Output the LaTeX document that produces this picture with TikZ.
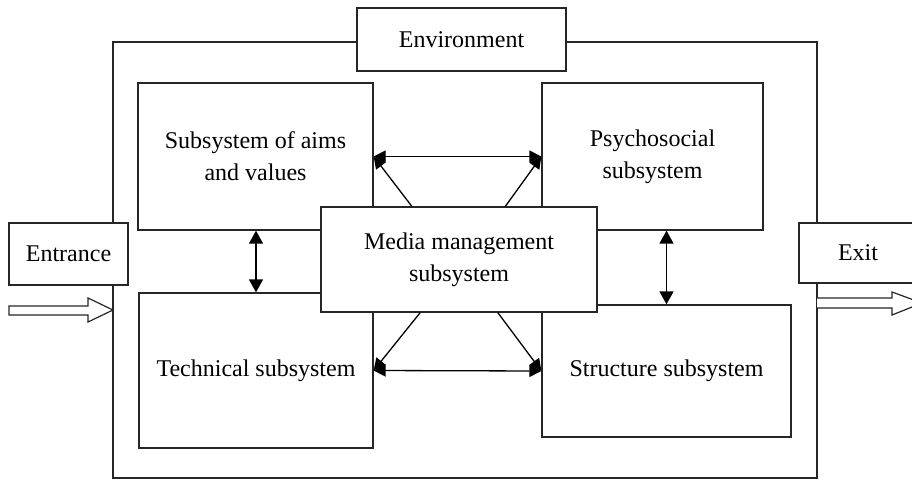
\documentclass[tikz,border=0pt]{standalone}
\usepackage{fontspec}
\setmainfont{Liberation Serif}
\usetikzlibrary{arrows.meta,calc}
\begin{document}
\begin{tikzpicture}[x=1pt,y=-1pt,
  box/.style={draw=black!85,line width=1.3pt,fill=white,inner sep=0pt,align=center,
    font=\fontsize{24}{32}\selectfont},
  link/.style={line width=1.3pt,{Triangle[length=12pt,width=12pt]}-{Triangle[length=12pt,width=12pt]}},
  vlink/.style={line width=1.5pt,{Triangle[length=13pt,width=14pt]}-{Triangle[length=13pt,width=14pt]}},
  spoke/.style={line width=1.3pt,-{Triangle[length=12pt,width=12pt]}},
  flow/.style={draw=black!85,line width=1.2pt,fill=white,line join=miter}]
\useasboundingbox (0,0) rectangle (912,479);
\clip (0,0) rectangle (912,479);

% outer system boundary
\node[box,minimum width=704,minimum height=436] (frame) at (465,260) {};

% environment label on the top edge
\node[box,minimum width=209,minimum height=63] (env) at (461.5,39.5) {Environment};

% input and output
\node[box,minimum width=119,minimum height=62] (entrance) at (68.5,254) {Entrance};
\node[box,minimum width=118,minimum height=60] (exit) at (858,253) {Exit};

% four subsystems
\node[box,minimum width=235,minimum height=147] (aims) at (255.5,156.5) {Subsystem of aims\\and values};
\node[box,minimum width=221,minimum height=147] (psych) at (652.5,156.5) {Psychosocial\\subsystem};
\node[box,minimum width=234,minimum height=155] (tech) at (256,370.5) {Technical subsystem};
\node[box,minimum width=249,minimum height=132] (struct) at (666.5,371) {Structure subsystem};

% central subsystem
\node[box,minimum width=276,minimum height=105] (media) at (459,259.5) {Media management\\subsystem};

% links between subsystems
\draw[link] (aims.east) -- (psych.west);
\draw[link] (tech.east) -- (struct.west);
\draw[vlink] (aims.south -| tech.north) -- (tech.north);
\draw[vlink] (psych.south -| struct.north) -- (struct.north);

% links from the central subsystem
\draw[spoke] ($(media.north west)!0.33!(media.north east)$) -- (aims.east);
\draw[spoke] ($(media.north west)!0.667!(media.north east)$) -- (psych.west);
\draw[spoke] ($(media.south west)!0.36!(media.south east)$) -- (tech.east);
\draw[spoke] ($(media.south west)!0.64!(media.south east)$) -- (struct.west);

% hollow flow arrows in and out
\draw[flow] (9,306) -- (88,306) -- (88,298) -- (113,310) -- (88,322) -- (88,315) -- (9,315) -- cycle;
\draw[flow] (817,298) -- (892,298) -- (892,292) -- (922,303) -- (892,315) -- (892,308) -- (817,308);
\end{tikzpicture}
\end{document}
